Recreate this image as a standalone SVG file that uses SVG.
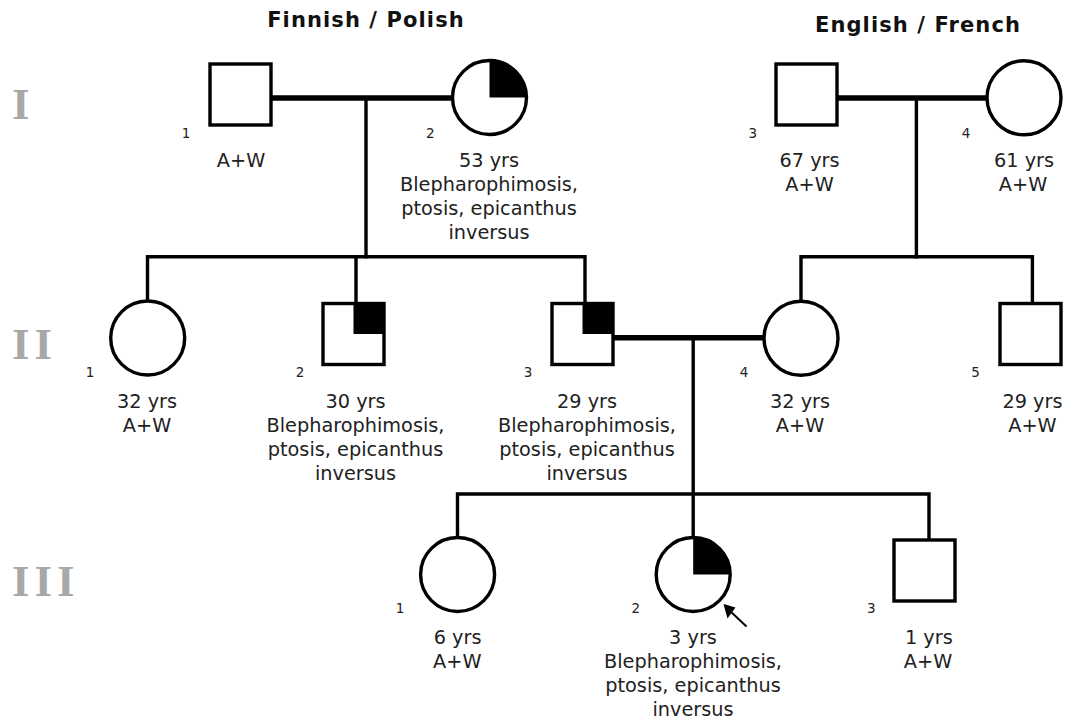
<svg xmlns="http://www.w3.org/2000/svg" width="1081" height="722" viewBox="0 0 1081 722">
<style>
.node{fill:#fff;stroke:#000;stroke-width:3.4}
.fill{fill:#000;stroke:none}
.line{fill:none;stroke:#000;stroke-width:3.4;stroke-linecap:square}
.mate{fill:none;stroke:#000;stroke-width:5.6}
.t{font-family:"DejaVu Sans",Verdana,sans-serif;font-size:19.3px;fill:#222;text-anchor:middle}
.n{font-family:"DejaVu Sans",Verdana,sans-serif;font-size:13.5px;fill:#222;text-anchor:middle}
.h{font-family:"DejaVu Sans",Verdana,sans-serif;font-size:21px;font-weight:bold;fill:#111;text-anchor:middle;letter-spacing:1.1px}
.g{font-family:"Liberation Serif","Times New Roman",serif;font-size:45px;font-weight:bold;fill:#a8a8a8;letter-spacing:5px}
</style>
<rect width="1081" height="722" fill="#fff"/>
<text class="h" x="366" y="27">Finnish / Polish</text>
<text class="h" x="918" y="32">English / French</text>
<text class="g" x="12" y="119">I</text>
<text class="g" x="12" y="359">II</text>
<text class="g" x="12" y="596">III</text>

<g id="connectors">
<line class="mate" x1="272" y1="98" x2="452" y2="98"/>
<line class="line" x1="366" y1="98" x2="366" y2="256.7"/>
<polyline class="line" points="147.5,301 147.5,256.7 585,256.7 585,303.5"/>
<line class="line" x1="356" y1="256.7" x2="356" y2="303.5"/>
<line class="mate" x1="838" y1="98" x2="987" y2="98"/>
<line class="line" x1="916.4" y1="98" x2="916.4" y2="256.7"/>
<polyline class="line" points="801,301 801,256.7 1032.4,256.7 1032.4,303.5"/>
<line class="mate" x1="613" y1="337.7" x2="764" y2="337.7"/>
<line class="line" x1="693.2" y1="337.7" x2="693.2" y2="537"/>
<polyline class="line" points="457.5,537 457.5,494 929,494 929,540"/>
<line x1="746.5" y1="626.5" x2="730" y2="611" stroke="#000" stroke-width="2"/>
<polygon points="723.5,604 735.5,607.5 727.5,618.5" fill="#000"/>
</g>

<g id="I-1">
<rect class="node" x="210" y="64" width="61" height="61"/>
<text class="n" x="186" y="138">1</text>
<text class="t" x="241" y="167">A+W</text>
</g>
<g id="I-2">
<circle class="node" cx="489.5" cy="97.5" r="37"/>
<path class="fill" d="M489.5,97.5 V60.5 A37,37 0 0 1 526.5,97.5 Z"/>
<text class="n" x="430.4" y="138">2</text>
<text class="t" x="489" y="167">53 yrs</text>
<text class="t" x="489" y="191">Blepharophimosis,</text>
<text class="t" x="489" y="215">ptosis, epicanthus</text>
<text class="t" x="489" y="239">inversus</text>
</g>
<g id="I-3">
<rect class="node" x="776" y="64" width="61" height="61"/>
<text class="n" x="752.8" y="138">3</text>
<text class="t" x="809.5" y="167">67 yrs</text>
<text class="t" x="809.5" y="191">A+W</text>
</g>
<g id="I-4">
<circle class="node" cx="1024" cy="97.8" r="37"/>
<text class="n" x="966" y="138">4</text>
<text class="t" x="1024" y="167">61 yrs</text>
<text class="t" x="1023" y="191">A+W</text>
</g>

<g id="II-1">
<circle class="node" cx="147.7" cy="338" r="37"/>
<text class="n" x="90" y="377">1</text>
<text class="t" x="147" y="408">32 yrs</text>
<text class="t" x="147" y="432">A+W</text>
</g>
<g id="II-2">
<rect class="node" x="323" y="303.5" width="61" height="61"/>
<rect class="fill" x="353.5" y="303.5" width="30.5" height="30.5"/>
<text class="n" x="300" y="377">2</text>
<text class="t" x="355.5" y="408">30 yrs</text>
<text class="t" x="355.5" y="432">Blepharophimosis,</text>
<text class="t" x="355.5" y="456">ptosis, epicanthus</text>
<text class="t" x="355.5" y="480">inversus</text>
</g>
<g id="II-3">
<rect class="node" x="552" y="303.5" width="61" height="61"/>
<rect class="fill" x="582.5" y="303.5" width="30.5" height="30.5"/>
<text class="n" x="528" y="377">3</text>
<text class="t" x="587" y="408">29 yrs</text>
<text class="t" x="587" y="432">Blepharophimosis,</text>
<text class="t" x="587" y="456">ptosis, epicanthus</text>
<text class="t" x="587" y="480">inversus</text>
</g>
<g id="II-4">
<circle class="node" cx="801" cy="338.3" r="37"/>
<text class="n" x="744" y="377">4</text>
<text class="t" x="800" y="408">32 yrs</text>
<text class="t" x="800" y="432">A+W</text>
</g>
<g id="II-5">
<rect class="node" x="1000" y="303.5" width="61" height="61"/>
<text class="n" x="975.6" y="377">5</text>
<text class="t" x="1032.4" y="408">29 yrs</text>
<text class="t" x="1032.4" y="432">A+W</text>
</g>

<g id="III-1">
<circle class="node" cx="457.6" cy="574.5" r="37"/>
<text class="n" x="400" y="613">1</text>
<text class="t" x="457.6" y="644">6 yrs</text>
<text class="t" x="457.3" y="668">A+W</text>
</g>
<g id="III-2">
<circle class="node" cx="693.2" cy="574.5" r="37"/>
<path class="fill" d="M693.2,574.5 V537.5 A37,37 0 0 1 730.2,574.5 Z"/>
<text class="n" x="635.7" y="613">2</text>
<text class="t" x="693" y="644">3 yrs</text>
<text class="t" x="693" y="668">Blepharophimosis,</text>
<text class="t" x="693" y="692">ptosis, epicanthus</text>
<text class="t" x="693" y="716">inversus</text>
</g>
<g id="III-3">
<rect class="node" x="894" y="540" width="61" height="61"/>
<text class="n" x="871.3" y="613">3</text>
<text class="t" x="928.8" y="644">1 yrs</text>
<text class="t" x="928" y="668">A+W</text>
</g>
</svg>
